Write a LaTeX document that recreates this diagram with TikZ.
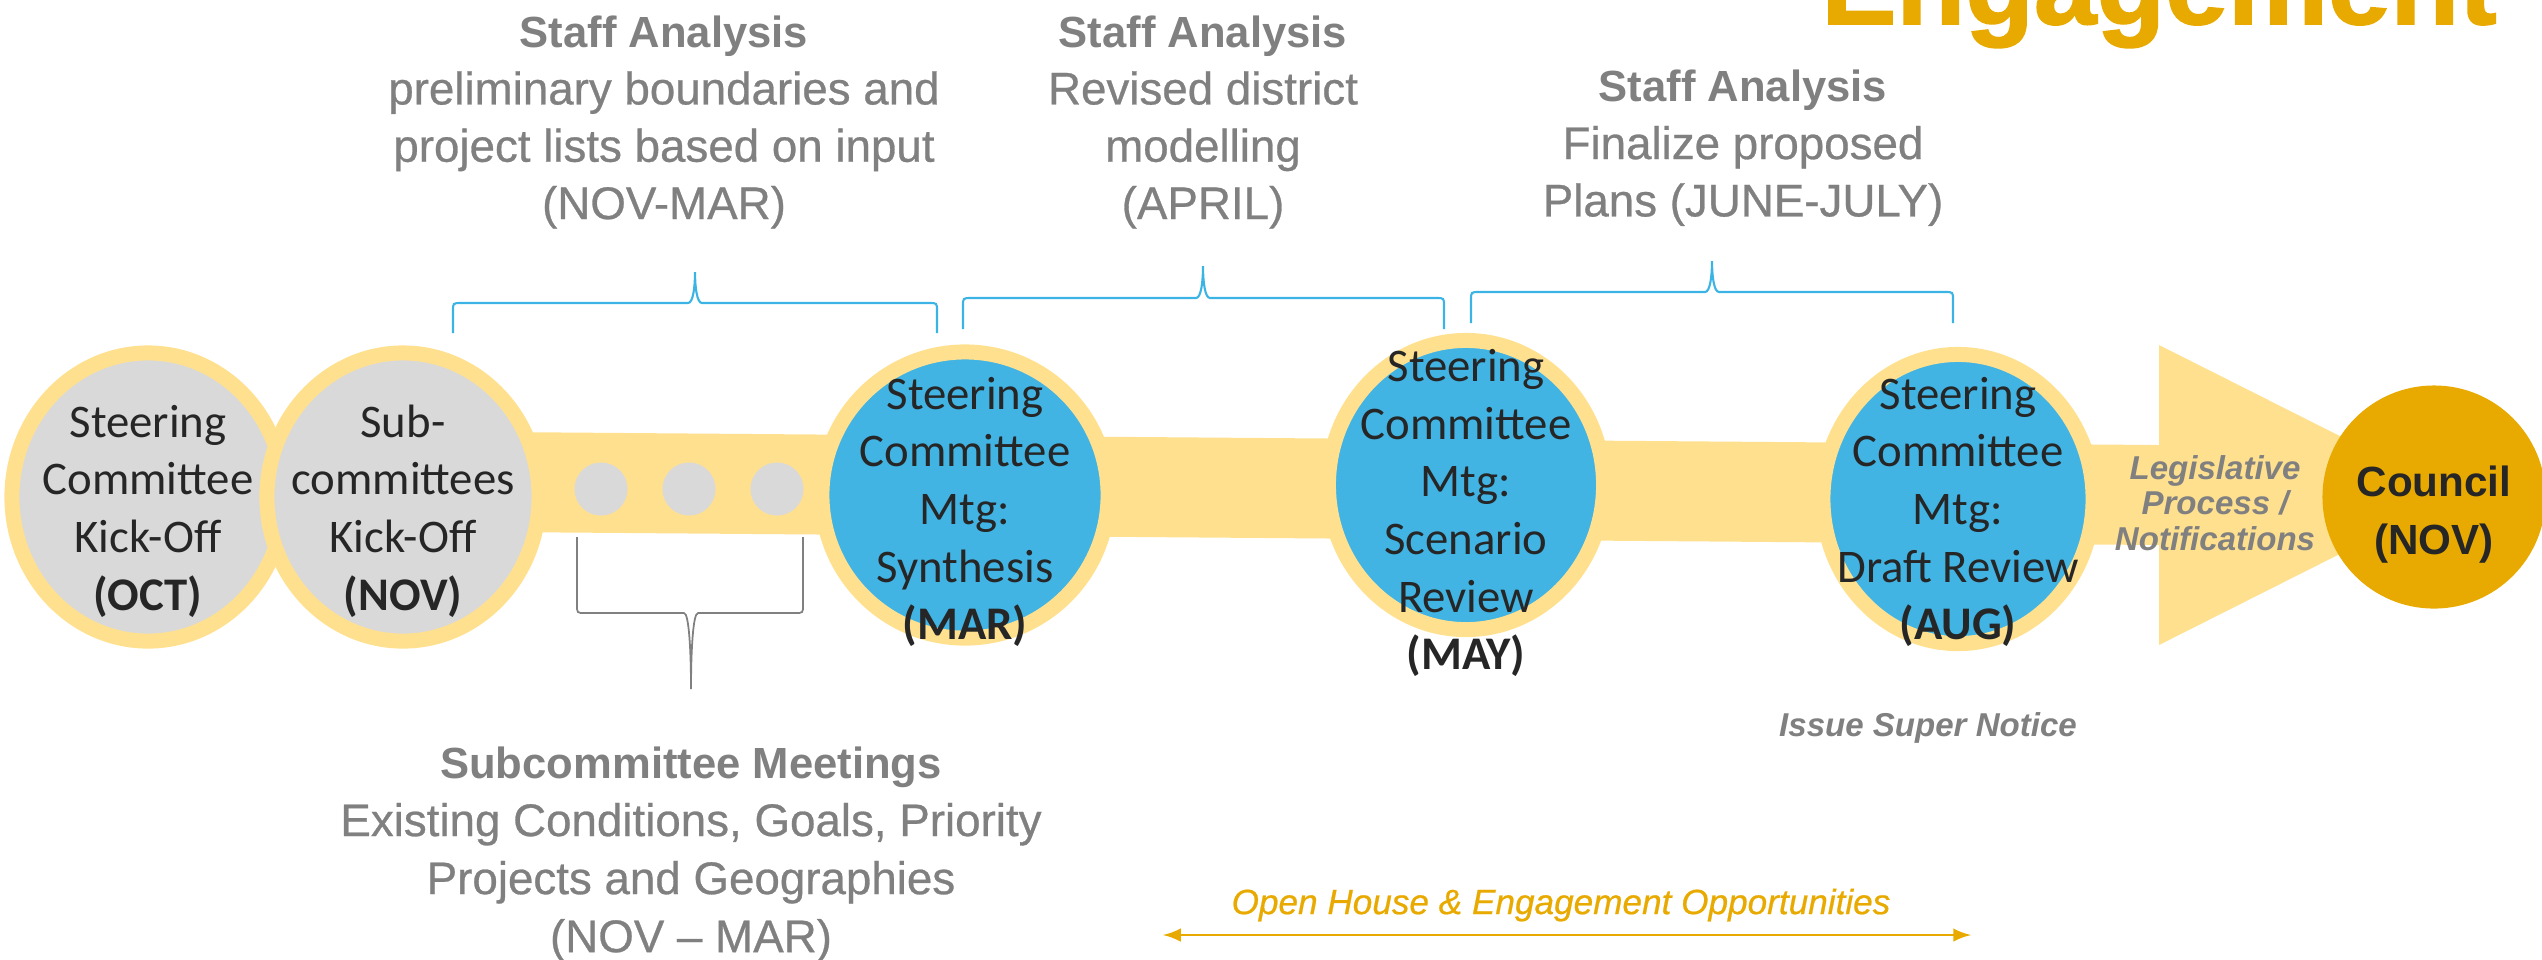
\documentclass[tikz,border=0pt]{standalone}
\usepackage{fontspec}
\setmainfont{Carlito}
\newfontfamily\grotesk{Liberation Sans}
\newfontfamily\groteskmed{Liberation Sans}[FakeBold=0.6]
\newfontfamily\titlefont{Liberation Sans Bold}[FakeBold=1.5]
\usetikzlibrary{arrows,%
                shapes}

\definecolor{bandyellow}{HTML}{FFE08F}
\definecolor{stepblue}{HTML}{41B4E4}
\definecolor{bracketblue}{HTML}{3BB4E5}
\definecolor{stepgrey}{HTML}{D9D9D9}
\definecolor{gold}{HTML}{E8AA00}
\definecolor{notegrey}{HTML}{808080}
\definecolor{ink}{HTML}{262626}

% bold first line of the grey notes
\newcommand{\notehead}[1]{{\grotesk\bfseries\fontsize{12.4}{16.3}\selectfont #1}}

% curly bracket: colour, left, tip, right, leg end, bar, tip end
\newcommand{\timebrace}[7]{%
  \draw[#1] (#2,#5) -- ({#2},{#6+8*sign(#5-#6)}) .. controls (#2,#6) .. ({#2+8},#6)
    -- ({#3-7},#6) .. controls ({#3-2},#6) and ({#3},{#6+0.5*(#7-#6)}) .. (#3,#7)
    .. controls ({#3},{#6+0.5*(#7-#6)}) and ({#3+2},#6) .. ({#3+7},#6)
    -- ({#4-8},#6) .. controls (#4,#6) .. ({#4},{#6+8*sign(#5-#6)}) -- (#4,#5);
}

\begin{document}
\begin{tikzpicture}[x=0.01cm,y=-0.01cm,
  stage/.style={ellipse,draw=bandyellow,line width=0.15cm,inner sep=0pt},
  stagetext/.style={align=center,text=ink,font=\fontsize{13.3}{16.4}\selectfont},
  dot/.style={circle,fill=stepgrey,minimum size=0.53cm,inner sep=0pt},
  note/.style={align=center,text=notegrey,font=\groteskmed\fontsize{13}{16.3}\selectfont},
  remark/.style={align=center,text=notegrey,font=\grotesk\bfseries\itshape\fontsize{9.4}{10.1}\selectfont}]
\useasboundingbox (0,0) rectangle (2542,959);

% title, mostly above the page
\node[anchor=base,text=gold,font=\titlefont\fontsize{32}{32}\selectfont] (title) at (2159,24) {Engagement};

% timeline band and arrow head
\fill[bandyellow] (500,432) -- (2159,445) -- (2159,345) -- (2457,495) -- (2159,645)
  -- (2159,545) -- (500,532) -- cycle;

\foreach \x [count=\i] in {601,689,777}
  \node[dot] (dot\i) at (\x,489) {};

% meetings
\node[stage,fill=stepgrey,minimum width=2.72cm,minimum height=2.88cm] (oct) at (148,497) {};
\node[stage,fill=stepgrey,minimum width=2.72cm,minimum height=2.88cm] (nov) at (403,497) {};
\node[stage,fill=stepblue,minimum width=2.86cm,minimum height=2.86cm] (mar) at (965,495) {};
\node[stage,fill=stepblue,minimum width=2.75cm,minimum height=2.89cm] (may) at (1466,485) {};
\node[stage,fill=stepblue,minimum width=2.70cm,minimum height=2.89cm] (aug) at (1958,499) {};
\node[circle,fill=gold,minimum size=2.23cm,inner sep=0pt] (council) at (2434,497) {};

\node[stagetext] (oct-label) at ([yshift=-0.14cm]oct.center) {Steering\\Committee\\Kick-Off\\\textbf{(OCT)}};
\node[stagetext] (nov-label) at ([yshift=-0.14cm]nov.center) {Sub-\\committees\\Kick-Off\\\textbf{(NOV)}};
\node[stagetext] (mar-label) at ([yshift=-0.17cm]mar.center) {Steering\\Committee\\Mtg:\\Synthesis\\\textbf{(MAR)}};
\node[stagetext] (may-label) at ([yshift=-0.28cm]may.center) {Steering\\Committee\\Mtg:\\Scenario\\Review\\\textbf{(MAY)}};
\node[stagetext] (aug-label) at ([yshift=-0.13cm]aug.center) {Steering\\Committee\\Mtg:\\Draft Review\\\textbf{(AUG)}};
\node[align=center,text=ink,font=\grotesk\bfseries\fontsize{12}{16.5}\selectfont] (council-label)
  at ([yshift=-0.18cm]council.center) {Council\\(NOV)};

\node[remark] (legis) at (2215,503) {Legislative\\Process /\\Notifications};
\node[remark] (notice) at (1928,728) {Issue Super Notice};

% staff analysis notes above, meetings note below
\node[note] (staff-a) at (664,122) {\notehead{Staff Analysis}\\preliminary boundaries and\\project lists based on input\\(NOV-MAR)};
\node[note] (staff-b) at (1203,122) {\notehead{Staff Analysis}\\Revised district\\modelling\\(APRIL)};
\node[note] (staff-c) at (1743,148) {\notehead{Staff Analysis}\\Finalize proposed\\Plans (JUNE-JULY)};
\node[note,font=\groteskmed\fontsize{13}{16.5}\selectfont] (subcom) at (691,854)
  {\notehead{Subcommittee Meetings}\\Existing Conditions, Goals, Priority\\Projects and Geographies\\(NOV – MAR)};

\timebrace{bracketblue,line width=0.6pt}{453}{695}{937}{333}{303}{272}
\timebrace{bracketblue,line width=0.6pt}{963}{1203}{1444}{329}{298}{266}
\timebrace{bracketblue,line width=0.6pt}{1471}{1712}{1953}{323}{292}{261}
\timebrace{notegrey,line width=0.5pt}{577}{691}{803}{537}{613}{689}

% open house period
\node[text=gold,font=\groteskmed\itshape\fontsize{10}{12}\selectfont] (openhouse) at (1561,905)
  {Open House \& Engagement Opportunities};
\coordinate (oh-left) at (1163,935);
\coordinate (oh-right) at (1971,935);
\draw[latex-latex,gold,line width=0.75pt] (oh-left) -- (oh-right);
\end{tikzpicture}
\end{document}
